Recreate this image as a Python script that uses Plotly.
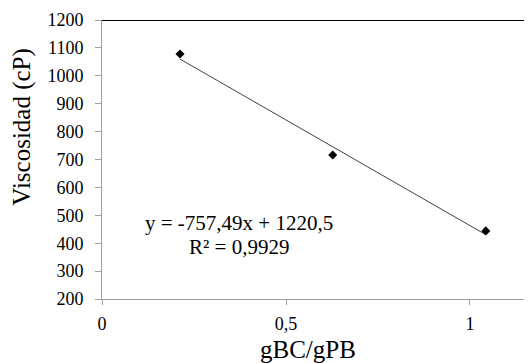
import plotly.graph_objects as go

x_vals = [0.212, 0.627, 1.043]
y_vals = [1078, 716, 444]
slope = -757.49
intercept = 1220.5
eq_text = "y = -757,49x + 1220,5"
r2_text = "R² = 0,9929"
x_ticks = [0, 0.5, 1]
x_tick_labels = ["0", "0,5", "1"]
y_ticks = [200, 300, 400, 500, 600, 700, 800, 900, 1000, 1100, 1200]
x_title = "gBC/gPB"
y_title = "Viscosidad (cP)"

fit_x = [min(x_vals), max(x_vals)]
fit_y = [slope * v + intercept for v in fit_x]

font = "Liberation Serif"

fig = go.Figure()
fig.add_trace(go.Scatter(x=fit_x, y=fit_y, mode="lines",
                         line=dict(color="#404040", width=1), hoverinfo="skip"))
fig.add_trace(go.Scatter(x=x_vals, y=y_vals, mode="markers",
                         marker=dict(symbol="diamond", size=7, color="black")))

fig.add_shape(type="line", xref="paper", yref="y", x0=0, x1=1, y0=1200, y1=1200,
              line=dict(color="black", width=2))

fig.add_annotation(x=0.373, y=472, xref="x", yref="y", text=eq_text, showarrow=False,
                   font=dict(family=font, size=21, color="black"))
fig.add_annotation(x=0.373, y=386, xref="x", yref="y", text=r2_text, showarrow=False,
                   font=dict(family=font, size=21, color="black"))

fig.add_annotation(x=-0.222, y=0.616, xref="paper", yref="paper", text=y_title,
                   showarrow=False, textangle=-90,
                   font=dict(family=font, size=25, color="black"))
fig.add_annotation(x=0.478, y=-0.235, xref="paper", yref="paper", text=x_title,
                   showarrow=False,
                   font=dict(family=font, size=25, color="black"))

fig.update_layout(
    width=524, height=355,
    margin=dict(l=94, r=0, t=12, b=64, autoexpand=False),
    paper_bgcolor="white", plot_bgcolor="white",
    showlegend=False,
    font=dict(family=font, size=18, color="black"),
    xaxis=dict(range=[0, 1.1685], tickvals=x_ticks, ticktext=x_tick_labels,
               showgrid=False, zeroline=False, showline=True, linecolor="#a0a0a0",
               linewidth=1, ticks="outside", tickcolor="#a0a0a0", ticklen=5,
               ticklabelstandoff=3,
               tickfont=dict(family=font, size=18), automargin=False),
    yaxis=dict(range=[200, 1200], tickvals=y_ticks,
               showgrid=False, zeroline=False, showline=True, linecolor="#a0a0a0",
               linewidth=1, ticks="outside", tickcolor="#a0a0a0", ticklen=6,
               ticklabelstandoff=8,
               tickfont=dict(family=font, size=18), automargin=False),
)

fig.write_html("out.html")
